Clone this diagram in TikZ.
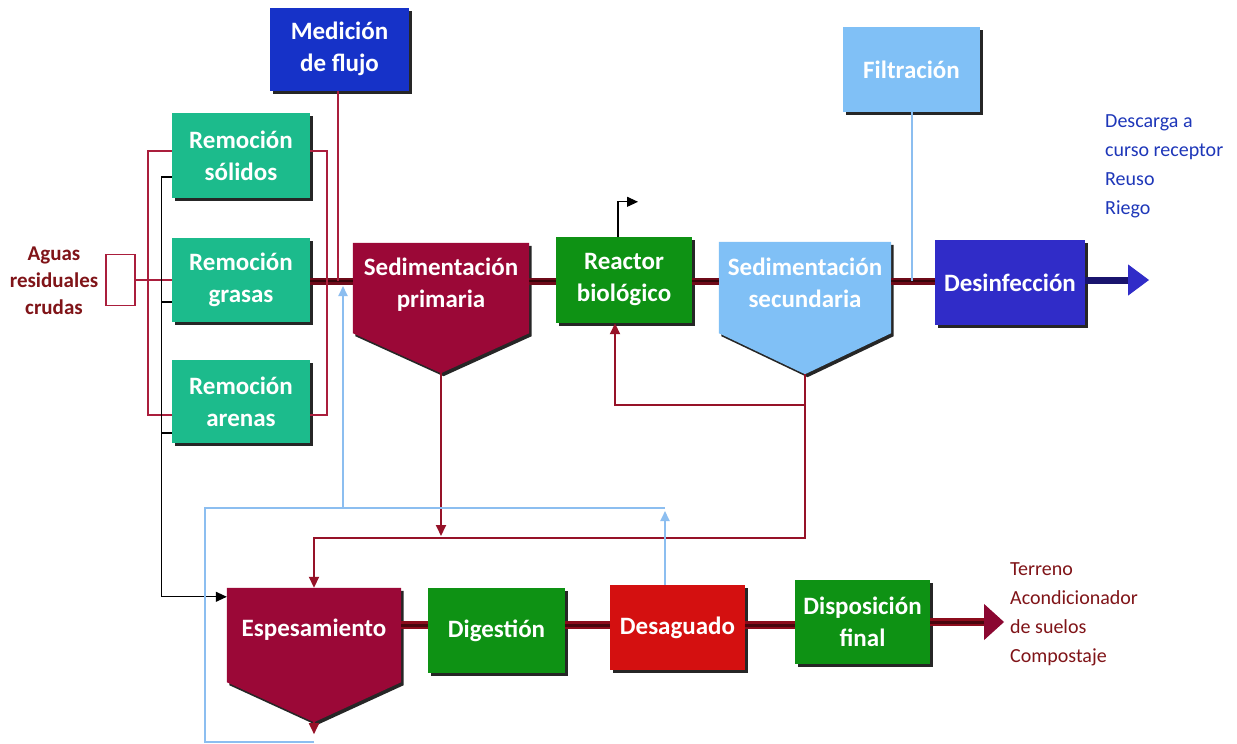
\documentclass[tikz,border=0pt]{standalone}
\usepackage{fontspec}
\setmainfont{Carlito}
\usetikzlibrary{arrows.meta,shadows,calc}
\definecolor{crim}{RGB}{155,8,55}
\definecolor{tealbox}{RGB}{28,187,140}
\definecolor{greenbox}{RGB}{14,146,20}
\definecolor{redbox}{RGB}{212,16,16}
\definecolor{medblue}{RGB}{22,50,200}
\definecolor{desblue}{RGB}{48,44,200}
\definecolor{lightbox}{RGB}{128,192,246}
\definecolor{dredtext}{RGB}{128,20,24}
\definecolor{bluetext}{RGB}{30,55,185}
\definecolor{thinred}{RGB}{170,30,60}
\definecolor{retred}{RGB}{150,18,40}
\definecolor{lineblue}{RGB}{140,190,240}
\definecolor{mainout}{RGB}{110,10,25}
\definecolor{maincore}{RGB}{55,5,10}
\definecolor{botout}{RGB}{140,12,28}
\definecolor{navyline}{RGB}{25,20,110}
\begin{document}
\begin{tikzpicture}[x=1pt,y=-1pt,
  shade/.style={drop shadow={shadow xshift=2.5pt,shadow yshift=-3pt,fill=black!85,opacity=1}},
  box/.style={rectangle,draw=none,inner sep=0pt,text=white,align=center,
    font=\bfseries\fontsize{25}{32}\selectfont,shade},
  holder/.style={rectangle,draw=none,inner sep=0pt},
  lbl/.style={inner sep=0pt,text=white,align=center,font=\bfseries\fontsize{25}{32}\selectfont},
  thinr/.style={draw=thinred,line width=1.8pt},
  retr/.style={draw=retred,line width=1.8pt},
  thinb/.style={draw=lineblue,line width=1.8pt},
  blk/.style={draw=black,line width=1.1pt},
  rtip/.style={-{Triangle[length=11pt,width=10pt]}},
  btip/.style={-{Triangle[length=10pt,width=9pt]}},
  ktip/.style={-{Triangle[length=11pt,width=10pt]}},
]
\useasboundingbox (0,0) rectangle (1237,744);
\fill[white] (0,0) rectangle (1237,744);

% ---------- nodes ----------
\node[box,fill=medblue,minimum width=139,minimum height=83] (med) at (339.5,49) {Medición\\de flujo};
\node[box,fill=tealbox,minimum width=138,minimum height=85] (sol) at (241,155.5) {Remoción\\sólidos};
\node[box,fill=tealbox,minimum width=138,minimum height=84] (gra) at (241,280) {Remoción\\grasas};
\node[box,fill=tealbox,minimum width=138,minimum height=83] (are) at (241,401.5) {Remoción\\arenas};
\node[rectangle,draw=thinred,line width=1.6pt,fill=white,minimum width=29,minimum height=51,inner sep=0pt] (sq) at (120.5,280) {};
\node[inner sep=0pt,text=dredtext,align=center,font=\bfseries\fontsize{21}{27}\selectfont] (aguas) at (54,281) {Aguas\\residuales\\crudas};

% Sedimentacion primaria
\node[holder,minimum width=176,minimum height=90] (sp) at (441,288) {};
\fill[crim,shade] (sp.north west) -- (sp.north east) -- (sp.south east) -- ($(sp.south)+(0,40)$) coordinate (sptip) -- (sp.south west) -- cycle;
\node[lbl] (sptext) at (441,285) {Sedimentación\\primaria};

\node[box,fill=greenbox,minimum width=136,minimum height=86] (rb) at (624,280) {Reactor\\biológico};

% Sedimentacion secundaria
\node[holder,minimum width=172,minimum height=91] (ss) at (805,287.5) {};
\fill[lightbox,shade] (ss.north west) -- (ss.north east) -- (ss.south east) -- ($(ss.south)+(0,41)$) coordinate (sstip) -- (ss.south west) -- cycle;
\node[lbl] (sstext) at (805,283) {Sedimentación\\secundaria};

\node[box,fill=desblue,minimum width=150,minimum height=85] (des) at (1010,282.5) {Desinfección};
\node[box,fill=lightbox,minimum width=137,minimum height=85] (fil) at (911.5,69.5) {Filtración};

% Espesamiento
\node[holder,minimum width=174,minimum height=94] (esp) at (314,635) {};
\fill[crim,shade] (esp.north west) -- (esp.north east) -- (esp.south east) -- ($(esp.south)+(0,40)$) coordinate (esptip) -- (esp.south west) -- cycle;
\node[lbl] (esptext) at (314,630) {Espesamiento};

\node[box,fill=greenbox,minimum width=137,minimum height=85] (dig) at (496.5,630.5) {Digestión};
\node[box,fill=redbox,minimum width=135,minimum height=85] (dsg) at (677.5,627.5) {Desaguado};
\node[box,fill=greenbox,minimum width=135,minimum height=84] (dfi) at (862.5,622) {Disposición\\final};

\node[anchor=north west,inner sep=0pt,text=bluetext,align=left,font=\fontsize{20}{29}\selectfont] (desc) at (1105,114) {Descarga a\\curso receptor\\Reuso\\Riego};
\node[anchor=north west,inner sep=0pt,text=dredtext,align=left,font=\fontsize{20}{29}\selectfont] (terr) at (1010,562) {Terreno\\Acondicionador\\de suelos\\Compostaje};

% ---------- helper coordinates ----------
\coordinate (hline) at (0,538);
\coordinate (ret) at (0,405);
\coordinate (lpL) at (205,508);
\coordinate (lpR) at (665,508);
\coordinate (lpM) at (343,508);
\coordinate (lpB) at (205,742);
\coordinate (espout) at (314,742);
\coordinate (outtip) at (1149,280);
\coordinate (bottip) at (1004,622);
\coordinate (medfoot) at (338,281);
\coordinate (filfoot) at (912,281);

% ---------- main thick line ----------
\foreach \a/\b in {gra.east/sp.west, sp.east/rb.west, rb.east/ss.west, ss.east/des.west}{
  \draw[mainout,line width=7pt] (\a |- 0,281) -- (\b |- 0,281);
  \draw[maincore,line width=2.5pt] (\a |- 0,281) -- (\b |- 0,281);
}
\draw[navyline,line width=7pt] (des.east |- 0,280) -- ($(outtip)+(-20,0)$);
\draw[desblue,line width=1pt,-{Triangle[length=21pt,width=31pt]}] ($(outtip)+(-21,0)$) -- (outtip);

% bottom thick line
\foreach \a/\b in {esp.east/dig.west, dig.east/dsg.west, dsg.east/dfi.west}{
  \draw[botout,line width=8pt] (\a |- 0,625) -- (\b |- 0,625);
  \draw[maincore!80!botout,line width=3pt] (\a |- 0,625) -- (\b |- 0,625);
}
\draw[botout,line width=8pt] (dfi.east |- 0,622) -- ($(bottip)+(-19,0)$);
\draw[maincore!80!botout,line width=3pt] (dfi.east |- 0,622) -- ($(bottip)+(-19,0)$);
\draw[crim!90!black,line width=1pt,-{Triangle[length=20pt,width=36pt]}] ($(bottip)+(-20,0)$) -- (bottip);

% ---------- thin connectors ----------
\draw[thinr] (med.south -| medfoot) -- (medfoot);
\draw[thinr] (sq.east) -- (gra.west);
\draw[thinr] ([yshift=4.5pt]sol.west) -- ++(-24,0) |- ([yshift=-13.5pt]are.west);
\draw[thinr] ([yshift=4.5pt]sol.east) -- ++(17,0) |- ([yshift=-13.5pt]are.east);

\draw[blk,ktip] ([yshift=-21.5pt]sol.west) -- ++(-10,0) |- ([yshift=-9pt]esp.north west);
\draw[blk] ([yshift=-22pt]gra.west) -- ++(-10,0);
\draw[blk] ([yshift=-31.5pt]are.west) -- ++(-10,0);

\draw[blk,ktip] ([xshift=-6pt]rb.north) -- ++(0,-35) -- ++(20,0);

\draw[thinb] (fil.south -| filfoot) -- (filfoot);

% sludge lines
\draw[retr,rtip] (sptip) -- ($(sptip |- hline)+(0,-2)$);
\draw[retr,rtip] (sstip) -- (sstip |- hline) -- (esp.north |- hline) -- (esp.north);
\draw[retr,rtip] (sstip |- ret) -- ([xshift=-9pt]rb.south |- ret) -- ([xshift=-9pt]rb.south);
\draw[retr,rtip] (esptip) -- ++(0,12);

% light blue return loop
\draw[thinb] (espout) -- (lpB) -- (lpL) -- (lpR);
\draw[thinb,btip] (dsg.north -| lpR) -- ($(lpR)+(0,3)$);
\draw[thinb,btip] (lpM) -- (343,286);
\end{tikzpicture}
\end{document}
